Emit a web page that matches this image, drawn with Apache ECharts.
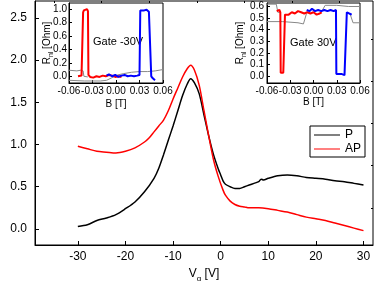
<!DOCTYPE html>
<html>
<head>
<meta charset="utf-8">
<script src="https://cdn.jsdelivr.net/npm/echarts@6/dist/echarts.min.js"></script>
<style>html,body{margin:0;padding:0;background:#fff}#c{width:374px;height:281px}</style>
</head>
<body>
<div id="c"></div>
<script>
// ---- main plot data ----
const vgP = [-30,-28,-26,-24,-22,-20,-18,-16,-14,-13,-12,-11,-10,-9,-8,-7,-6.3,-5.5,-4.5,-3.5,-2.5,-1.5,-0.5,0,0.5,1,2,3,4,5,6,7,8,8.5,9,10,12,14,16,18,20,22,24,26,28,30];
const rP  = [0.03,0.05,0.10,0.13,0.17,0.24,0.32,0.44,0.60,0.72,0.88,1.05,1.22,1.40,1.58,1.72,1.78,1.73,1.60,1.35,1.10,0.88,0.71,0.64,0.57,0.53,0.50,0.48,0.48,0.50,0.52,0.54,0.56,0.59,0.58,0.60,0.63,0.64,0.63,0.61,0.60,0.59,0.57,0.56,0.54,0.52];
const vgAP = [-30,-28,-26,-24,-22,-20,-18,-16,-15,-14,-13,-12,-11,-10,-9,-8,-7,-6.3,-5.5,-4.5,-3.5,-2.5,-1.5,-0.5,0.5,1,2,3,4,5,6,8,10,12,14,16,18,20,22,24,26,28,30];
const rAP  = [0.98,0.95,0.92,0.91,0.90,0.92,0.96,1.03,1.08,1.15,1.22,1.29,1.40,1.54,1.67,1.80,1.90,1.94,1.88,1.70,1.40,1.10,0.82,0.62,0.46,0.40,0.33,0.29,0.27,0.26,0.25,0.25,0.24,0.22,0.20,0.17,0.14,0.12,0.10,0.07,0.04,0.01,-0.02];
const xTicks = [-30,-20,-10,0,10,20,30];
const xMinor = [-35,-25,-15,-5,5,15,25];
const yTicks = [0,0.5,1.0,1.5,2.0,2.5];
const yMinor = [-0.25,0.25,0.75,1.25,1.75,2.25];

// ---- inset 1: Gate -30V ----
const i1RedB = [-0.0485,-0.046,-0.044,-0.0425,-0.042,-0.041,-0.039,-0.037,-0.0358,-0.0352,-0.033,-0.029,-0.025,-0.021,-0.017,-0.013,-0.009,-0.005,-0.001,0.003,0.007];
const i1RedR = [0.00,-0.01,0.01,0.00,0.95,0.98,0.96,1.00,0.97,0.02,-0.01,-0.02,0.00,-0.01,0.01,0.00,0.02,0.01,-0.01,0.00,-0.01];
const i1BlueB = [-0.012,-0.009,-0.005,-0.001,0.003,0.007,0.011,0.015,0.019,0.023,0.027,0.030,0.031,0.033,0.036,0.039,0.042,0.0435,0.045,0.047,0.0498];
const i1BlueR = [0.01,0.03,0.00,0.02,-0.01,0.01,0.02,0.00,0.01,0.00,0.01,0.02,0.98,1.00,0.98,0.99,0.96,0.95,0.00,-0.03,-0.06];
const i1GrayAB = [-0.06,-0.05,-0.045,-0.042,-0.041,-0.036];
const i1GrayAR = [0.09,0.08,0.09,0.08,0.00,-0.01];
const i1GrayBB = [-0.06,-0.04,-0.02,-0.012,-0.005,0.002,0.01,0.02,0.03,0.04,0.05,0.055,0.06];
const i1GrayBR = [-0.06,-0.07,-0.07,-0.06,-0.02,0.02,0.04,0.06,0.07,0.07,0.08,0.09,0.10];

// ---- inset 2: Gate 30V ----
const i2RedB = [-0.0475,-0.046,-0.044,-0.0428,-0.0423,-0.041,-0.039,-0.037,-0.0368,-0.035,-0.032,-0.028,-0.024,-0.020,-0.016,-0.012,-0.008,-0.004,0.000,0.004,0.008,0.0106];
const i2RedR = [0.56,0.55,0.57,0.55,0.03,0.02,0.03,0.02,0.53,0.54,0.53,0.55,0.54,0.56,0.55,0.54,0.55,0.54,0.55,0.53,0.54,0.55];
const i2BlueB = [-0.0088,-0.005,-0.002,0.002,0.006,0.010,0.014,0.018,0.022,0.026,0.029,0.0295,0.032,0.036,0.040,0.0425,0.043,0.046,0.0493];
const i2BlueR = [0.57,0.56,0.58,0.56,0.57,0.56,0.57,0.56,0.57,0.56,0.57,0.02,0.01,0.02,0.01,0.02,0.55,0.54,0.53];
const i2GrayAB = [-0.06,-0.048,-0.046,-0.043];
const i2GrayAR = [0.62,0.62,0.55,0.55];
const i2GrayBB = [-0.06,-0.04,-0.02,-0.013,-0.009];
const i2GrayBR = [0.47,0.47,0.46,0.45,0.54];
const i2GrayCB = [0.010,0.015,0.03,0.045,0.06];
const i2GrayCR = [0.55,0.61,0.61,0.60,0.60];
const i2GrayDB = [0.047,0.051,0.06];
const i2GrayDR = [0.54,0.46,0.46];

const i1X = [-0.06,-0.03,0,0.03,0.06];
const i1Y = [0,0.2,0.4,0.6,0.8,1.0];
const i2Y = [0,0.1,0.2,0.3,0.4,0.5,0.6];

const zip = (a,b) => a.map((v,i)=>[v,b[i]]);
const FONT = 'Liberation Sans, Arial, sans-serif';
const black = '#000';

function axisBase(extra){
  const base = {
    type:'value', splitLine:{show:false},
    axisLine:{show:true,onZero:false,lineStyle:{color:black,width:1}},
    axisTick:{show:true,inside:true,length:4,lineStyle:{color:black}},
    axisLabel:{color:black,fontFamily:FONT,interval:0},
  };
  const out = Object.assign(base, extra);
  out.axisLine = Object.assign({onZero:false,lineStyle:{color:black,width:1}}, extra.axisLine||{show:true});
  return out;
}
function subName(size, sub, pad){
  return {rich:{
    a:{fontSize:size,color:black,fontFamily:FONT,verticalAlign:'top'},
    b:{fontSize:sub,color:black,fontFamily:FONT,verticalAlign:'top',padding:[pad,0,0,0]}
  }};
}

const chart = echarts.init(document.getElementById('c'), null, {renderer:'canvas'});
const option = {
  animation:false,
  backgroundColor:'#fff',
  textStyle:{fontFamily:FONT},
  grid:[
    {left:35,top:1,width:338,height:244,show:true,borderColor:black,borderWidth:1,backgroundColor:'transparent',containLabel:false,outerBoundsMode:'none'},
    {left:69,top:3,width:94,height:80,show:true,borderColor:black,borderWidth:1,backgroundColor:'#fff',containLabel:false,outerBoundsMode:'none'},
    {left:267,top:3,width:93,height:80,show:true,borderColor:black,borderWidth:1,backgroundColor:'#fff',containLabel:false,outerBoundsMode:'none'}
  ],
  legend:{
    data:['P','AP'], orient:'vertical', left:310, top:126,
    itemWidth:26, itemHeight:10, itemGap:2,
    borderColor:black, borderWidth:1, padding:[3,4,2,4],
    textStyle:{color:black,fontSize:12,fontFamily:FONT},
    icon:'path://M0,5 L26,5 L26,6 L0,6 Z'
  },
  xAxis:[
    axisBase({gridIndex:0,min:-39,max:32,
      axisTick:{show:true,inside:true,length:4,customValues:xTicks,lineStyle:{color:black}},
      axisLabel:{color:black,fontFamily:FONT,fontSize:12,margin:6,customValues:xTicks,interval:0},
      name:'{a|V}{b|g}{a| [V]}', nameLocation:'middle', nameGap:14,
      nameTextStyle:subName(12,8,7)
    }),
    axisBase({gridIndex:0,min:-39,max:32,axisLine:{show:false},
      axisTick:{show:true,inside:true,length:2,customValues:xMinor,lineStyle:{color:black}},
      axisLabel:{show:false}}),
    axisBase({gridIndex:1,min:-0.06,max:0.06,
      axisTick:{show:true,inside:true,length:3,customValues:i1X,lineStyle:{color:black}},
      axisLabel:{color:black,fontFamily:FONT,fontSize:10,margin:3,customValues:i1X,interval:0,formatter:v=>v.toFixed(2)},
      name:'B [T]', nameLocation:'middle', nameGap:16, nameTextStyle:{fontSize:10,color:black,fontFamily:FONT}}),
    axisBase({gridIndex:2,min:-0.06,max:0.06,
      axisTick:{show:true,inside:true,length:3,customValues:i1X,lineStyle:{color:black}},
      axisLabel:{color:black,fontFamily:FONT,fontSize:10,margin:3,customValues:i1X,interval:0,formatter:v=>v.toFixed(2)},
      name:'B [T]', nameLocation:'middle', nameGap:14, nameTextStyle:{fontSize:10,color:black,fontFamily:FONT}})
  ],
  yAxis:[
    axisBase({gridIndex:0,min:-0.19,max:2.7,
      axisTick:{show:true,inside:true,length:4,customValues:yTicks,lineStyle:{color:black}},
      axisLabel:{color:black,fontFamily:FONT,fontSize:12,margin:8,customValues:yTicks,interval:0,formatter:v=>v.toFixed(1)},
      name:'{a|R}{b|nl}{a| [Ohm]}', nameLocation:'middle', nameGap:24, nameRotate:90,
      nameTextStyle:subName(12,8,7)
    }),
    axisBase({gridIndex:0,min:-0.19,max:2.7,axisLine:{show:false},
      axisTick:{show:true,inside:true,length:2,customValues:yMinor,lineStyle:{color:black}},
      axisLabel:{show:false}}),
    axisBase({gridIndex:1,min:-0.1,max:1.09,
      axisTick:{show:true,inside:true,length:3,customValues:i1Y,lineStyle:{color:black}},
      axisLabel:{color:black,fontFamily:FONT,fontSize:10,margin:2,customValues:i1Y,interval:0,formatter:v=>v.toFixed(1)},
      name:'{a|R}{b|nl}{a| [Ohm]}', nameLocation:'middle', nameGap:14, nameRotate:90, nameMoveOverlap:false,
      nameTextStyle:subName(10,7,6)
    }),
    axisBase({gridIndex:2,min:-0.058,max:0.63,
      axisTick:{show:true,inside:true,length:3,customValues:i2Y,lineStyle:{color:black}},
      axisLabel:{color:black,fontFamily:FONT,fontSize:10,margin:3,customValues:i2Y,interval:0,formatter:v=>v.toFixed(1)},
      name:'{a|R}{b|nl}{a| [Ohm]}', nameLocation:'middle', nameGap:19, nameRotate:90, nameMoveOverlap:false,
      nameTextStyle:subName(10,7,6)
    })
  ],
  series:[
    {name:'P',type:'line',xAxisIndex:0,yAxisIndex:0,data:zip(vgP,rP),symbol:'none',smooth:0.3,lineStyle:{color:'#000',width:1.5},itemStyle:{color:'#000'}},
    {name:'AP',type:'line',xAxisIndex:0,yAxisIndex:0,data:zip(vgAP,rAP),symbol:'none',smooth:0.3,lineStyle:{color:'#ff0000',width:1.5},itemStyle:{color:'#ff0000'}},
    {type:'line',xAxisIndex:2,yAxisIndex:2,data:zip(i1GrayAB,i1GrayAR),symbol:'none',lineStyle:{color:'#888',width:1}},
    {type:'line',xAxisIndex:2,yAxisIndex:2,data:zip(i1GrayBB,i1GrayBR),symbol:'none',lineStyle:{color:'#888',width:1}},
    {type:'line',xAxisIndex:2,yAxisIndex:2,data:zip(i1RedB,i1RedR),symbol:'none',lineStyle:{color:'#ff0000',width:2}},
    {type:'line',xAxisIndex:2,yAxisIndex:2,data:zip(i1BlueB,i1BlueR),symbol:'none',lineStyle:{color:'#0000ff',width:2}},
    {type:'line',xAxisIndex:3,yAxisIndex:3,data:zip(i2GrayAB,i2GrayAR),symbol:'none',lineStyle:{color:'#888',width:1}},
    {type:'line',xAxisIndex:3,yAxisIndex:3,data:zip(i2GrayBB,i2GrayBR),symbol:'none',lineStyle:{color:'#888',width:1}},
    {type:'line',xAxisIndex:3,yAxisIndex:3,data:zip(i2GrayCB,i2GrayCR),symbol:'none',lineStyle:{color:'#888',width:1}},
    {type:'line',xAxisIndex:3,yAxisIndex:3,data:zip(i2GrayDB,i2GrayDR),symbol:'none',lineStyle:{color:'#888',width:1}},
    {type:'line',xAxisIndex:3,yAxisIndex:3,data:zip(i2RedB,i2RedR),symbol:'none',lineStyle:{color:'#ff0000',width:2}},
    {type:'line',xAxisIndex:3,yAxisIndex:3,data:zip(i2BlueB,i2BlueR),symbol:'none',lineStyle:{color:'#0000ff',width:2}}
  ],
  graphic:[
    {type:'text',left:93,top:36,style:{text:'Gate -30V',fill:black,font:'11px '+FONT}},
    {type:'text',left:290,top:37,style:{text:'Gate 30V',fill:black,font:'11px '+FONT}}
  ]
};
chart.setOption(option);
</script>
</body>
</html>
